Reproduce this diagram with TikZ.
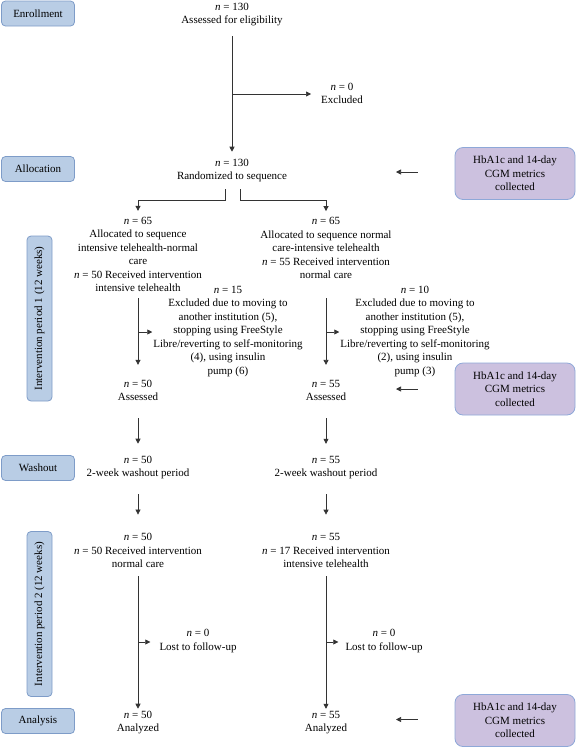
\documentclass[tikz,border=0pt]{standalone}
\usepackage{fontspec}
\setmainfont{Liberation Serif}
\usetikzlibrary{arrows.meta,calc}
\definecolor{lblfill}{HTML}{B9CDE5}
\definecolor{lbldraw}{HTML}{7E9CC8}
\definecolor{pfill}{HTML}{CCC1DF}
\definecolor{pdraw}{HTML}{8EA8D8}
\definecolor{lncol}{HTML}{333333}
\newcommand{\nv}{\textit{n}~=~}
\begin{document}
\begin{tikzpicture}[x=1pt,y=-1pt,
 font=\fontsize{11}{13.5}\selectfont,
 lbl/.style={draw=lbldraw, fill=lblfill, line width=0.8pt, rounded corners=4pt, minimum width=73pt, minimum height=25pt, inner sep=0pt},
 vlbl/.style={lbl, rotate=90, minimum width=165pt, minimum height=25pt},
 pbox/.style={draw=pdraw, fill=pfill, line width=0.8pt, rounded corners=8pt, minimum width=120pt, minimum height=52pt, align=center, inner sep=0pt},
 txt/.style={align=center, inner sep=0pt},
 arr/.style={draw=lncol, line width=0.7pt, -{Triangle[length=5pt,width=5pt]}}]
\useasboundingbox (0,0) rectangle (576,748);

% phase labels
\node[lbl] (en) at (38,13.5) {Enrollment};
\node[lbl] (al) at (38,169) {Allocation};
\node[lbl] (wa) at (38,468) {Washout};
\node[lbl] (an) at (38,721) {Analysis};
\node[vlbl] (ip1) at (39.5,318.5) {Intervention period 1 (12 weeks)};
\node[vlbl] (ip2) at (39.5,614) {Intervention period 2 (12 weeks)};

% measurement boxes
\node[pbox] (p1) at (515,173.5) {HbA1c and 14-day\\CGM metrics\\collected};
\node[pbox] (p2) at (515,389) {HbA1c and 14-day\\CGM metrics\\collected};
\node[pbox] (p3) at (515,720.5) {HbA1c and 14-day\\CGM metrics\\collected};

% flow texts
\node[txt] (a130) at (232,14.5) {\nv 130\\Assessed for eligibility};
\node[txt] (ex0) at (342,93.5) {\nv 0\\Excluded};
\node[txt] (r130) at (232,170.5) {\nv 130\\Randomized to sequence};
\node[txt] (L65) at (138,254.5) {\nv 65\\Allocated to sequence\\intensive telehealth-normal\\care\\\nv 50 Received intervention\\intensive telehealth};
\node[txt] (R65) at (326,248) {\nv 65\\Allocated to sequence normal\\care-intensive telehealth\\\nv 55 Received intervention\\normal care};
\node[txt] (Lex) at (228,331.5) {\nv 15\\Excluded due to moving to\\another institution (5),\\stopping using FreeStyle\\Libre/reverting to self-monitoring\\(4), using insulin\\pump (6)};
\node[txt] (Rex) at (415,331.5) {\nv 10\\Excluded due to moving to\\another institution (5),\\stopping using FreeStyle\\Libre/reverting to self-monitoring\\(2), using insulin\\pump (3)};
\node[txt] (L50a) at (138,390.5) {\nv 50\\Assessed};
\node[txt] (R55a) at (326,390.5) {\nv 55\\Assessed};
\node[txt] (L50w) at (138,467.5) {\nv 50\\2-week washout period};
\node[txt] (R55w) at (326,467.5) {\nv 55\\2-week washout period};
\node[txt] (L50r) at (138,550.5) {\nv 50\\\nv 50 Received intervention\\normal care};
\node[txt] (R55r) at (326,550.5) {\nv 55\\\nv 17 Received intervention\\intensive telehealth};
\node[txt] (Llost) at (198,641) {\nv 0\\Lost to follow-up};
\node[txt] (Rlost) at (384,641) {\nv 0\\Lost to follow-up};
\node[txt] (L50an) at (138,722.5) {\nv 50\\Analyzed};
\node[txt] (R55an) at (326,722.5) {\nv 55\\Analyzed};

% helper coordinates
\coordinate (b0) at (232,94);
\coordinate (s1) at (225,189);
\coordinate (s1h) at (225,200);
\coordinate (s2) at (240.5,189);
\coordinate (s2h) at (240.5,200);
\coordinate (bL) at (138,332);
\coordinate (bR) at (326,332);
\coordinate (cL) at (138,642);
\coordinate (cR) at (326,642);
\coordinate (k1) at (396,172);
\coordinate (k2) at (396,389);
\coordinate (k3) at (396,719.5);

% connectors
\draw[arr, shorten <=10pt, shorten >=7pt] (a130.south) -- (r130.north);
\draw[arr, shorten >=10pt] (b0) -- (b0 -| ex0.west);
\draw[arr, shorten >=6pt] (s1) -- (s1h) -| (L65.north);
\draw[arr, shorten >=6pt] (s2) -- (s2h) -| (R65.north);

\draw[arr, shorten <=6pt, shorten >=15pt] (L65.south) -- (L50a.north);
\draw[arr, shorten <=19.5pt, shorten >=15pt] (R65.south) -- (R55a.north);
\draw[arr, shorten >=1pt] (bL) -- (bL -| Lex.west);
\draw[arr, shorten >=1pt] (bR) -- (bR -| Rex.west);

\draw[arr, shorten <=17pt, shorten >=12pt] (L50a.south) -- (L50w.north);
\draw[arr, shorten <=17pt, shorten >=12pt] (R55a.south) -- (R55w.north);
\draw[arr, shorten <=15pt, shorten >=18.5pt] (L50w.south) -- (L50r.north);
\draw[arr, shorten <=15pt, shorten >=18.5pt] (R55w.south) -- (R55r.north);

\draw[arr, shorten <=8.5pt, shorten >=2pt] (L50r.south) -- (L50an.north);
\draw[arr, shorten <=8.5pt, shorten >=2pt] (R55r.south) -- (R55an.north);
\draw[arr, shorten >=9pt] (cL) -- (cL -| Llost.west);
\draw[arr, shorten >=7pt] (cR) -- (cR -| Rlost.west);

\draw[arr, shorten <=37pt] (p1.west |- k1) -- (k1);
\draw[arr, shorten <=37pt] (p2.west |- k2) -- (k2);
\draw[arr, shorten <=37pt] (p3.west |- k3) -- (k3);
\end{tikzpicture}
\end{document}
